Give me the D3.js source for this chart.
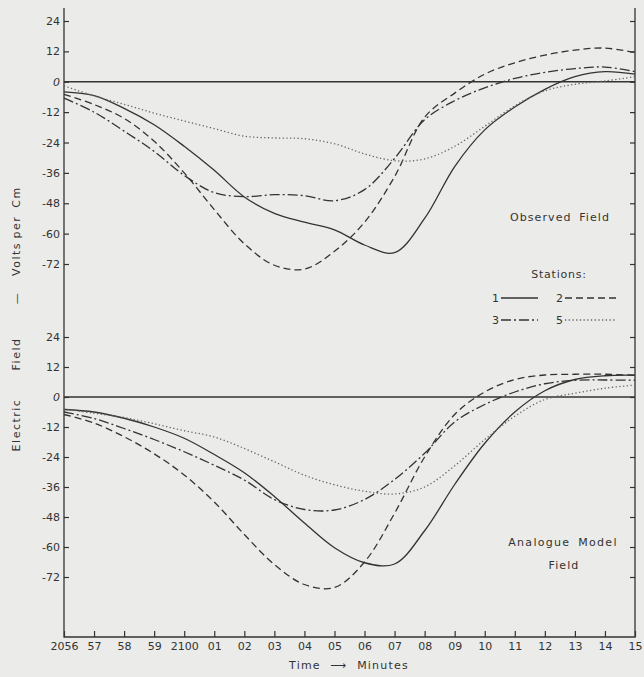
<!DOCTYPE html>
<html>
<head>
<meta charset="utf-8">
<script src="https://cdn.jsdelivr.net/npm/d3@7"></script>
<style>
  body { margin: 0; background: #ebebe9; }
  svg { display: block; background: #ebebe9; }
  text { font-family: "DejaVu Sans", sans-serif; fill: #333; }
</style>
</head>
<body>
<div id="chart"></div>
<script>
// time axis: minutes after 2056
const minutes = [0, 1, 2, 3, 4, 5, 6, 7, 8, 9, 10, 11, 12, 13, 14, 15, 16, 17, 18, 19];
const timeLabels = ["2056", "57", "58", "59", "2100", "01", "02", "03", "04", "05",
                    "06", "07", "08", "09", "10", "11", "12", "13", "14", "15"];
const yTicks = [24, 12, 0, -12, -24, -36, -48, -60, -72];

// Observed field, volts per cm
const obs1 = [-4, -5.5, -10.5, -17, -25.5, -35, -45.5, -52, -55.5, -58.5, -64.5, -67.5, -54, -33.5, -19, -10, -3, 2, 4, 3];
const obs2 = [-5, -9, -14.5, -23.5, -36, -50.5, -64, -72.5, -74, -67, -55.5, -37.5, -14, -4.5, 3, 7.5, 10.5, 12.5, 13.3, 11.5];
const obs3 = [-6.5, -12, -19.5, -27.5, -37, -43.8, -45.4, -44.6, -45, -47, -42.6, -30.3, -15, -7.5, -2.4, 1.3, 3.7, 5.2, 5.8, 4];
const obs5 = [-1.6, -5.6, -8.9, -12.4, -15.5, -18.5, -21.5, -22.2, -22.5, -24.5, -28.5, -31.2, -30.5, -25.5, -17.6, -9.5, -3.6, -1, 0.3, 2];

// Analogue model field
const mod1 = [-5, -6, -8.5, -12, -16.5, -23, -30.3, -39.8, -50.4, -60.3, -66.3, -66.8, -53.5, -35, -18.5, -6, 2.5, 7, 8.5, 8.7];
const mod2 = [-7, -10.4, -15.9, -22.7, -31.2, -42, -55, -67, -75, -76.2, -66, -46.5, -24, -7, 2, 7, 8.8, 9.1, 9.1, 8.7];
const mod3 = [-6, -8.6, -12.6, -17, -21.9, -27.3, -33.2, -41, -45, -45.2, -41, -33, -22.5, -10, -3, 2, 5.3, 6.7, 6.8, 6.7];
const mod5 = [-4.75, -6.5, -8.2, -10.7, -13.5, -16, -20.6, -25.9, -31.3, -35.1, -37.7, -38.8, -36, -27.5, -17, -7.7, -1, 1.5, 3.5, 4.8];

const stations = ["1", "2", "3", "5"];
const dashes = {"1": null, "2": "7,4", "3": "10,3,2,3", "5": "1.3,2.4"};

const width = 644, height = 677;
const frameLeft = 64, frameRight = 635, frameTop = 8, frameBottom = 637;

const svg = d3.select("#chart").append("svg")
    .attr("width", width)
    .attr("height", height);

const x = d3.scaleLinear().domain([0, 19]).range([frameLeft, frameRight]);
const yObs = d3.scaleLinear().domain([-72, 24]).range([264, 21]);
const yMod = d3.scaleLinear().domain([-72, 24]).range([577, 337]);

const ink = "#333";

// frame
svg.append("path")
    .attr("d", `M${frameLeft},${frameTop}V${frameBottom}H${frameRight}V${frameTop}`)
    .attr("fill", "none")
    .attr("stroke", ink)
    .attr("stroke-width", 1.3);

function drawYAxis(y) {
    const g = svg.append("g")
        .attr("transform", `translate(${frameLeft},0)`)
        .call(d3.axisLeft(y).tickValues(yTicks).tickSize(-5).tickPadding(4)
            .tickFormat(d => String(d)));
    g.select(".domain").remove();
    g.selectAll("line").attr("stroke", ink).attr("stroke-width", 1.2);
    g.selectAll("text")
        .style("font-size", "11px")
        .style("font-style", d => d === 0 ? "italic" : null)
        .attr("fill", ink);

    const r = svg.append("g")
        .attr("transform", `translate(${frameRight},0)`)
        .call(d3.axisRight(y).tickValues(yTicks).tickSize(-5).tickFormat(""));
    r.select(".domain").remove();
    r.selectAll("line").attr("stroke", ink).attr("stroke-width", 1.2);

    // zero line
    svg.append("line")
        .attr("x1", frameLeft).attr("x2", frameRight)
        .attr("y1", y(0)).attr("y2", y(0))
        .attr("stroke", ink).attr("stroke-width", 1.3);
}
drawYAxis(yObs);
drawYAxis(yMod);

// time axis
const xg = svg.append("g")
    .attr("transform", `translate(0,${frameBottom})`)
    .call(d3.axisBottom(x).tickValues(minutes).tickSize(-6).tickPadding(5)
        .tickFormat((d, i) => timeLabels[i]));
xg.select(".domain").remove();
xg.selectAll("line").attr("stroke", ink).attr("stroke-width", 1.2);
xg.selectAll("text").style("font-size", "11px").attr("fill", ink);

// curves
function drawSeries(values, y, st) {
    const line = d3.line()
        .x((d, i) => x(minutes[i]))
        .y(d => y(d))
        .curve(d3.curveCatmullRom.alpha(0.5));
    svg.append("path")
        .datum(values)
        .attr("d", line)
        .attr("fill", "none")
        .attr("stroke", st === "5" ? "#666" : ink)
        .attr("stroke-width", 1.3)
        .attr("stroke-dasharray", dashes[st]);
}
[obs1, obs2, obs3, obs5].forEach((s, i) => drawSeries(s, yObs, stations[i]));
[mod1, mod2, mod3, mod5].forEach((s, i) => drawSeries(s, yMod, stations[i]));

// panel labels
function label(txt, tx, ty, spacing) {
    svg.append("text")
        .attr("x", tx).attr("y", ty)
        .attr("text-anchor", "middle")
        .style("font-size", "11px")
        .style("letter-spacing", (spacing || 1.1) + "px")
        .style("word-spacing", "3px")
        .text(txt);
}
label("Observed Field", 560, 221);
label("Analogue Model", 563, 546, 1.3);
label("Field", 564, 569);

// legend
label("Stations:", 559, 278, 0.8);
const legendRows = [["1", "2"], ["3", "5"]];
legendRows.forEach((row, r) => {
    const ly = 298 + r * 22;
    row.forEach((st, c) => {
        const lx = 492 + c * 64;
        svg.append("text")
            .attr("x", lx).attr("y", ly + 4)
            .style("font-size", "11px")
            .text(st);
        svg.append("line")
            .attr("x1", lx + 9).attr("x2", lx + (c ? 60 : 46))
            .attr("y1", ly).attr("y2", ly)
            .attr("stroke", st === "5" ? "#666" : ink)
            .attr("stroke-width", 1.3)
            .attr("stroke-dasharray", dashes[st]);
    });
});

// y title, spread out like the original lettering
const yTitle = [["Electric", 425], ["Field", 354], ["\u2014", 298], ["Volts", 259], ["per", 227], ["Cm", 197]];
yTitle.forEach(([w, cy]) => {
    svg.append("text")
        .attr("transform", `translate(20,${cy}) rotate(-90)`)
        .attr("text-anchor", "middle")
        .style("font-size", "11px")
        .style("letter-spacing", "1.5px")
        .text(w);
});

// x title
svg.append("text")
    .attr("x", 349).attr("y", 669)
    .attr("text-anchor", "middle")
    .style("font-size", "11px")
    .style("letter-spacing", "1.2px")
    .style("word-spacing", "5px")
    .text("Time \u27F6 Minutes");
</script>
</body>
</html>
